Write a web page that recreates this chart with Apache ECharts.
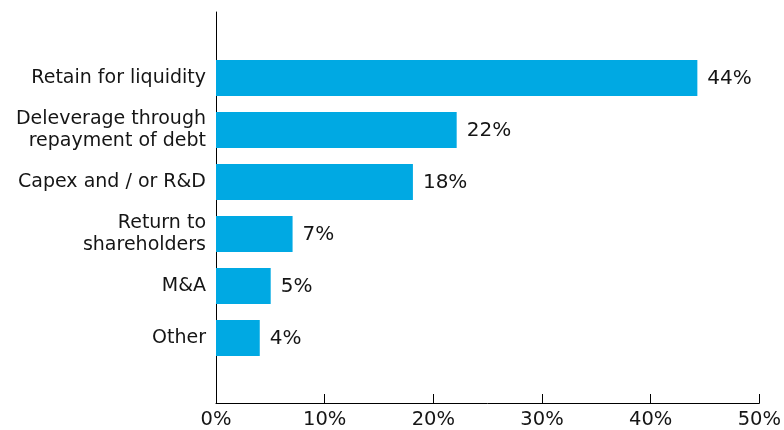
<!DOCTYPE html>
<html>
<head>
<meta charset="utf-8">
<script src="https://cdn.jsdelivr.net/npm/echarts@6/dist/echarts.min.js"></script>
<style>
  html, body { margin: 0; padding: 0; background: #fff; }
  #chart { width: 784px; height: 430px; }
</style>
</head>
<body>
<div id="chart"></div>
<script>
// Uses of cash, share of respondents (%)
const categories = [
  'Retain for liquidity',
  'Deleverage through\nrepayment of debt',
  'Capex and / or R&D',
  'Return to\nshareholders',
  'M&A',
  'Other'
];
const values = [44, 22, 18, 7, 5, 4];
const xTicks = [0, 10, 20, 30, 40, 50];

const FONT = '"DejaVu Sans", "Noto Sans", sans-serif';
const TEXT = '#151515';
const BAR = '#00a9e3';

const chart = echarts.init(document.getElementById('chart'), null, { renderer: 'canvas' });

chart.setOption({
  animation: false,
  backgroundColor: '#fff',
  grid: [
    // bar area
    { left: 216, right: 21, top: 52, bottom: 66 },
    // frame carrying the visible axes
    { left: 216, right: 21, top: 12, bottom: 27 }
  ],
  xAxis: [
    {
      gridIndex: 0, type: 'value', min: xTicks[0], max: xTicks[xTicks.length - 1], interval: 10,
      show: false
    },
    {
      gridIndex: 1, type: 'value', min: xTicks[0], max: xTicks[xTicks.length - 1], interval: 10,
      axisLine: { show: true, lineStyle: { color: '#000', width: 1 } },
      axisTick: { show: true, inside: true, length: 9, lineStyle: { color: '#000' } },
      splitLine: { show: false },
      axisLabel: {
        color: TEXT, fontFamily: FONT, fontSize: 19.5, margin: 7,
        formatter: v => v + '%'
      }
    }
  ],
  yAxis: [
    {
      gridIndex: 0, type: 'category', data: categories, inverse: true,
      axisLine: { show: false },
      axisTick: { show: false },
      axisLabel: {
        color: TEXT, fontFamily: FONT, fontSize: 19, margin: 10,
        lineHeight: 22, align: 'right'
      }
    },
    {
      gridIndex: 1, type: 'value', min: 0, max: 1,
      axisLine: { show: true, lineStyle: { color: '#000', width: 1 } },
      axisTick: { show: false },
      axisLabel: { show: false },
      splitLine: { show: false }
    }
  ],
  series: [
    {
      type: 'bar',
      xAxisIndex: 0, yAxisIndex: 0,
      data: values,
      barWidth: 36,
      itemStyle: { color: BAR },
      label: {
        show: true, position: 'right', distance: 10,
        color: TEXT, fontFamily: FONT, fontSize: 20,
        formatter: p => p.value + '%',
        offset: [0, 1]
      }
    }
  ]
});
</script>
</body>
</html>
